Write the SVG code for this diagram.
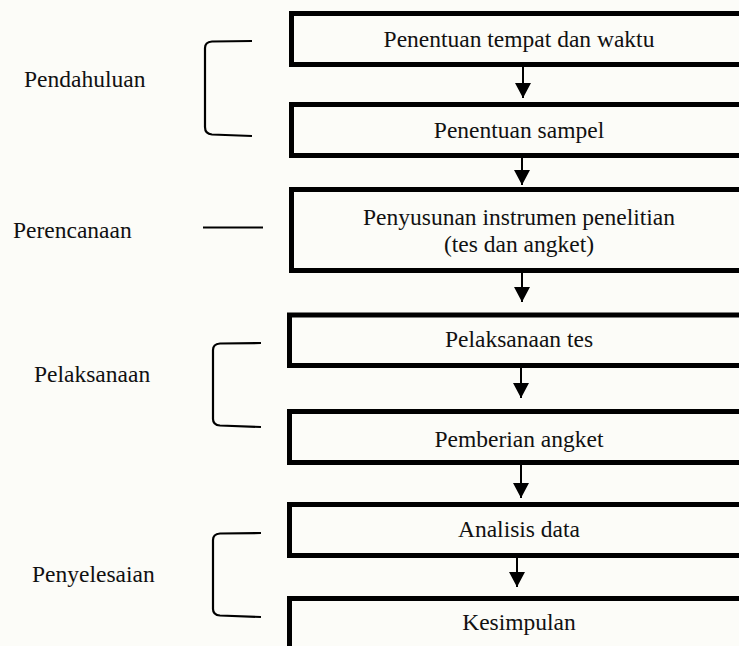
<svg xmlns="http://www.w3.org/2000/svg" width="739" height="646" viewBox="0 0 739 646">
<defs>
<style>
.box{fill:none;stroke:#000;stroke-width:5;}
.t{font-family:"Liberation Serif","Times New Roman",serif;font-size:23.5px;fill:#111;}
.c{text-anchor:middle;}
.br{fill:none;stroke:#000;stroke-width:2.2;}
.ar{stroke:#000;stroke-width:2;fill:none;}
</style>
<marker id="ah" viewBox="0 0 15 16" refX="15" refY="8" markerWidth="15" markerHeight="16" markerUnits="userSpaceOnUse" orient="auto">
<path d="M0,0 L15,8 L0,16 Z" fill="#000"/>
</marker>
</defs>
<rect width="739" height="646" fill="#fcfcf8"/>
<g id="n1"><rect class="box" x="291.5" y="13.5" width="460" height="51"/><text class="t c" x="519" y="47">Penentuan tempat dan waktu</text></g>
<g id="n2"><rect class="box" x="291.5" y="104.5" width="460" height="51"/><text class="t c" x="519" y="138">Penentuan sampel</text></g>
<g id="n3"><rect class="box" x="291.5" y="189.5" width="460" height="81"/><text class="t c" x="519" y="225">Penyusunan instrumen penelitian</text><text class="t c" x="519" y="252">(tes dan angket)</text></g>
<g id="n4"><rect class="box" x="289.5" y="315" width="460" height="50.5"/><text class="t c" x="519" y="347">Pelaksanaan tes</text></g>
<g id="n5"><rect class="box" x="289.5" y="411.5" width="460" height="51"/><text class="t c" x="519" y="447">Pemberian angket</text></g>
<g id="n6"><rect class="box" x="289.5" y="504.5" width="460" height="51"/><text class="t c" x="519" y="537">Analisis data</text></g>
<g id="n7"><rect class="box" x="289.5" y="598.5" width="460" height="60"/><text class="t c" x="519" y="630">Kesimpulan</text></g>
<g id="connectors">
<line class="ar" x1="523" y1="67" x2="523" y2="98" marker-end="url(#ah)"/>
<line class="ar" x1="522" y1="158" x2="522" y2="185" marker-end="url(#ah)"/>
<line class="ar" x1="522" y1="273" x2="522" y2="302" marker-end="url(#ah)"/>
<line class="ar" x1="521" y1="368" x2="521" y2="398" marker-end="url(#ah)"/>
<line class="ar" x1="521" y1="465" x2="521" y2="498" marker-end="url(#ah)"/>
<line class="ar" x1="517" y1="558" x2="517" y2="587" marker-end="url(#ah)"/>
</g>
<g id="labels">
<g id="pendahuluan"><path class="br" d="M252,41 L212,41.5 Q205,42 205,48 L205,127 Q205,134 212,134.5 L252,136"/><text class="t" x="24" y="87">Pendahuluan</text></g>
<g id="perencanaan"><line class="br" x1="203" y1="227.5" x2="263" y2="227.5"/><text class="t" x="13" y="238">Perencanaan</text></g>
<g id="pelaksanaan"><path class="br" d="M261,343 L220,343.5 Q213,344 213,350 L213,419 Q213,425 220,425.5 L261,427"/><text class="t" x="34" y="382">Pelaksanaan</text></g>
<g id="penyelesaian"><path class="br" d="M261,533 L220,533.5 Q213,534 213,540 L213,609 Q213,615 220,615.5 L261,617"/><text class="t" x="32" y="582">Penyelesaian</text></g>
</g>
</svg>
